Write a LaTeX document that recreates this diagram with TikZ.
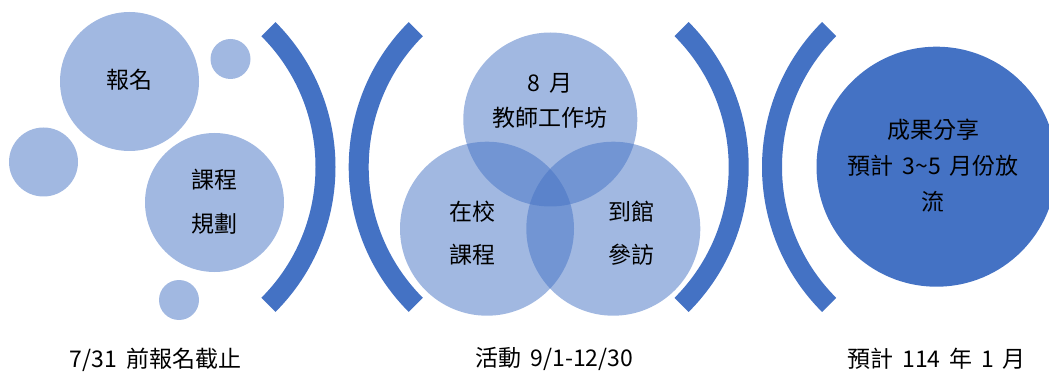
\documentclass[tikz,border=0pt]{standalone}
\usepackage{fontspec}
\setmainfont{Noto Sans CJK TC}
\newfontfamily\cjk{Noto Sans CJK TC}
\definecolor{accblue}{HTML}{4472C4}
\begin{document}
\begin{tikzpicture}[x=1pt,y=-1pt,
  bubble/.style={circle,inner sep=0pt,fill=accblue,fill opacity=0.5,text opacity=1,draw=none},
  txt/.style={font={\cjk\fontsize{23}{#1}\selectfont\spaceskip=0.38em\relax},align=center,inner sep=0pt,text=black},
  txt/.default=44,
  bracket/.style={fill=accblue}]
\useasboundingbox (0,0) rectangle (1049,374);
\clip (0,0) rectangle (1049,374);
% left group
\node[bubble,minimum size=139pt] (reg) at (129.5,81.5) {};
\node[bubble,minimum size=40pt] (s1) at (230.5,59) {};
\node[bubble,minimum size=69pt] (s2) at (43.5,162) {};
\node[bubble,minimum size=139pt] (plan) at (214.5,202.5) {};
\node[bubble,minimum size=40pt] (s3) at (179,300) {};
\node[txt] (regt) at (129,80) {報名};
\node[txt=44] (plant) at (214.5,202) {課程\\規劃};
% brackets
\coordinate (b1) at (130.5,167);
\coordinate (b2) at (553.7,167);
\coordinate (b3) at (543.7,167);
\coordinate (b4) at (967,167);
\fill[bracket] (b1) ++(-45:185) arc[start angle=-45,end angle=45,radius=185] -- ++(45:20) arc[start angle=45,end angle=-45,radius=205] -- cycle;
\fill[bracket] (b2) ++(135:185) arc[start angle=135,end angle=225,radius=185] -- ++(225:20) arc[start angle=225,end angle=135,radius=205] -- cycle;
\fill[bracket] (b3) ++(-45:185) arc[start angle=-45,end angle=45,radius=185] -- ++(45:20) arc[start angle=45,end angle=-45,radius=205] -- cycle;
\fill[bracket] (b4) ++(135:185) arc[start angle=135,end angle=225,radius=185] -- ++(225:20) arc[start angle=225,end angle=135,radius=205] -- cycle;
% venn
\node[bubble,minimum size=174pt] (vt) at (550.3,119.5) {};
\node[bubble,minimum size=174pt] (vl) at (487,228.7) {};
\node[bubble,minimum size=174pt] (vr) at (613.3,228.7) {};
\node[txt=35] (vtt) at (550,100.5) {8 月\\教師工作坊};
\node[txt=43.3] (vlt) at (472.5,233.5) {在校\\課程};
\node[txt=43.3] (vrt) at (631,233.5) {到館\\參訪};
% result
\node[circle,inner sep=0pt,fill=accblue,minimum size=240pt] (res) at (936.5,166.7) {};
\node[txt=36] (rest) at (933.3,166) {成果分享\\預計 3\char`~5 月份放\\流};
% bottom labels
\node[txt] (l1) at (155.5,360) {7/31 前報名截止};
\node[txt] (l2) at (554.5,359) {活動 9/1-12/30};
\node[txt] (l3) at (936.5,359) {預計 114 年 1 月};
\end{tikzpicture}
\end{document}
